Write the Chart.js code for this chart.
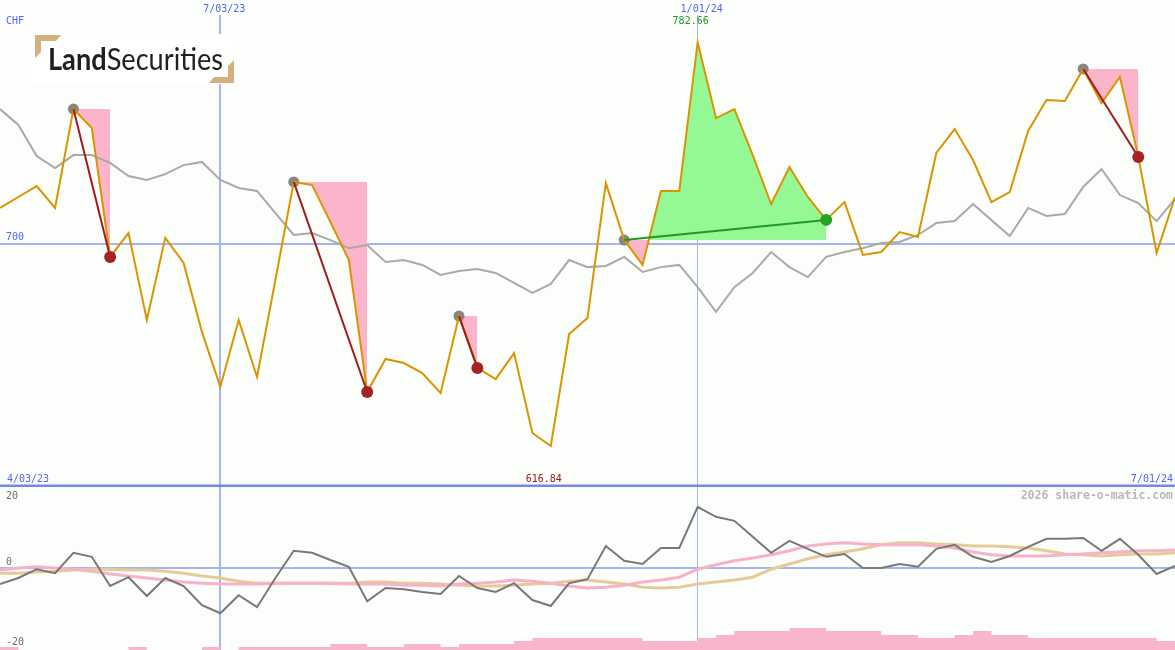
<!DOCTYPE html>
<html>
<head>
<meta charset="utf-8">
<title>Land Securities</title>
<script src="https://cdn.jsdelivr.net/npm/chart.js@4.4.1/dist/chart.umd.min.js"></script>
<style>
  html, body { margin: 0; padding: 0; background: #fcfefc; }
  #wrap { position: relative; width: 1175px; height: 650px; overflow: hidden; }
  canvas { position: absolute; left: 0; }
  #priceChart { top: 0; }
  #oscChart { top: 487px; }
</style>
</head>
<body>
<div id="wrap">
  <canvas id="priceChart" width="1175" height="487"></canvas>
  <canvas id="oscChart" width="1175" height="163"></canvas>
</div>
<script>
// weekly closes (CHF)
const price = [714.6, 719.1, 723.6, 714.6, 755.2, 747.4, 694.5, 704.3, 668.6, 702.3,
  692.0, 663.7, 641.1, 668.6, 645.2, 685.0, 725.3, 724.0, 708.8, 693.2,
  639.0, 652.6, 650.9, 646.8, 638.6, 670.2, 648.9, 644.3, 655.0, 622.2,
  616.84, 662.8, 669.4, 724.8, 701.4, 691.2, 721.6, 721.6, 782.66, 751.5,
  755.2, 736.3, 716.2, 731.4, 719.1, 709.7, 717.0, 695.3, 696.5, 704.7,
  702.7, 737.2, 747.0, 734.3, 717.0, 721.1, 746.2, 758.9, 758.5, 771.7,
  757.7, 768.4, 735.5, 696.1, 719.1];

// moving average
const avg = [755.2, 748.7, 735.9, 731.0, 736.3, 736.3, 733.1, 727.7, 726.1, 728.5,
  732.2, 733.5, 726.1, 722.8, 721.6, 712.5, 703.5, 704.3, 701.4, 698.1,
  699.4, 692.4, 693.2, 691.2, 687.1, 688.7, 689.5, 687.9, 683.8, 679.7,
  683.4, 693.2, 690.3, 690.8, 694.5, 688.3, 690.3, 691.2, 682.1, 671.9,
  682.1, 687.9, 696.5, 690.3, 686.2, 694.5, 696.5, 698.1, 700.2, 700.6,
  703.5, 708.4, 709.2, 716.2, 709.6, 703.1, 714.6, 711.3, 712.1, 723.2,
  730.6, 719.9, 716.6, 709.2, 718.3];

// lower panel
const osc = [-4.0, -2.5, -0.3, -1.3, 3.8, 2.8, -4.5, -2.3, -7.0, -2.5,
  -4.5, -9.3, -11.3, -6.8, -9.8, -2.5, 4.3, 3.8, 2.0, 0.3,
  -8.3, -5.0, -5.3, -6.0, -6.5, -2.0, -5.0, -6.0, -3.8, -8.0,
  -9.5, -3.8, -2.8, 5.5, 1.8, 1.0, 5.0, 5.0, 15.3, 12.8,
  11.8, 7.8, 3.8, 6.8, 4.8, 2.8, 3.5, 0, 0, 1.0,
  0.3, 4.8, 5.8, 2.8, 1.5, 3.0, 5.3, 7.3, 7.3, 7.5,
  4.3, 7.3, 3.3, -1.5, 0.5];

const oscPink = [-0.5, 0, 0.3, 0, -0.3, -0.8, -1.5, -2, -2.5, -3,
  -3.5, -3.8, -4, -4, -4, -3.8, -3.8, -3.8, -3.8, -4,
  -4, -4, -4.3, -4.3, -4.5, -4, -3.8, -3.5, -3, -3.3,
  -3.8, -4.5, -5, -4.8, -4.3, -3.5, -3, -2.3, -0.3, 0.8,
  1.8, 2.5, 3.3, 4.3, 5.5, 6, 6.3, 6, 5.8, 5.8,
  5.8, 5.5, 5, 4, 3.3, 3, 3, 3, 3.3, 3.5,
  3.8, 4, 4.3, 4.3, 4.5];

const oscTan = [-1.3, -1.3, -1, -0.8, -0.5, -0.3, -0.3, -0.5, -0.5, -0.8,
  -1.3, -2, -2.5, -3.3, -3.8, -3.8, -3.8, -3.8, -3.8, -3.8,
  -3.5, -3.5, -3.8, -3.8, -4, -4.3, -4.5, -4.5, -4.3, -4,
  -3.8, -3.3, -3, -3.5, -4, -4.8, -5, -4.8, -4, -3.5,
  -3, -2.3, -0.3, 1, 2.3, 3.3, 4, 4.8, 5.8, 6.3,
  6.3, 6, 5.8, 5.5, 5.5, 5.3, 5, 4.3, 3.5, 3.3,
  3, 3.3, 3.5, 3.5, 3.8];

const volume = [1, 0, 0, 0, 0, 0, 0, 1, 0, 0,
  0, 1, 0, 1, 1, 1, 1, 1, 2, 2,
  1, 1, 2, 2, 1, 2, 2, 2, 3, 4,
  4, 4, 4, 4, 4, 3, 3, 3, 4, 5,
  6.3, 6.3, 6.3, 7.3, 7.3, 6.3, 6.3, 6.3, 5, 5,
  4, 4, 5, 6.3, 5, 5, 4, 4, 4, 4,
  4, 4, 4, 3, 3];

// signals (week index of entry / exit)
const sellStart = [4, 16, 25, 59];
const sellEnd = [6, 20, 26, 62];
const buyStart = [34];
const buyEnd = [45];

// labels
const dateTickWeeks = [12, 38];
const dateTickLabels = ['7/03/23', '1/01/24'];
const rangeLabels = ['4/03/23', '7/01/24'];
const priceTicks = [700];
const oscTicks = [20, 0, -20];
const currency = 'CHF';
const credit = '2026 share-o-matic.com';

const weeks = price.map((_, i) => i);

const BG = '#fcfefc';
const GRID = '#a6b4f2';
const BLUE_TEXT = '#5464ee';
const MONO = '"DejaVu Sans Mono", monospace';
const PINK = '#fab5cb';
const GREEN = '#94f894';

function onlyAt(values, idxs) {
  return values.map((v, i) => idxs.includes(i) ? v : null);
}
function levelBetween(values, a, b) {
  return values.map((v, i) => (i >= a && i <= b) ? values[a] : null);
}

function drawDateLines(chart, top) {
  const { ctx, chartArea, scales } = chart;
  ctx.save();
  ctx.strokeStyle = GRID;
  dateTickWeeks.forEach((w, k) => {
    const wide = k === 0;
    const x = wide ? Math.round(scales.x.getPixelForValue(w)) : Math.floor(scales.x.getPixelForValue(w)) + 0.5;
    ctx.lineWidth = wide ? 2 : 1;
    ctx.beginPath();
    ctx.moveTo(x, top);
    ctx.lineTo(x, chartArea.bottom);
    ctx.stroke();
  });
  ctx.restore();
}

function drawLogo(ctx) {
  ctx.save();
  ctx.fillStyle = '#ffffff';
  ctx.fillRect(30, 34, 208, 50);
  ctx.fillStyle = '#d3b07c';
  ctx.beginPath();
  ctx.moveTo(35, 35); ctx.lineTo(61, 35); ctx.lineTo(56, 41); ctx.lineTo(41, 41);
  ctx.lineTo(41, 52); ctx.lineTo(35, 58); ctx.closePath(); ctx.fill();
  ctx.beginPath();
  ctx.moveTo(234, 83); ctx.lineTo(209, 83); ctx.lineTo(214, 77); ctx.lineTo(228, 77);
  ctx.lineTo(228, 66); ctx.lineTo(234, 60); ctx.closePath(); ctx.fill();

  const bold = 'bold 30px Lato', reg = '30px Lato';
  ctx.font = bold;
  const w1 = ctx.measureText('Land').width;
  ctx.font = reg;
  const w2 = ctx.measureText('Securities').width;
  ctx.translate(48, 70);
  ctx.scale(175 / (w1 + w2), 1);
  ctx.fillStyle = '#231f20';
  ctx.textBaseline = 'alphabetic';
  ctx.font = bold;
  ctx.fillText('Land', 0, 0);
  ctx.font = reg;
  ctx.fillText('Securities', w1, 0);
  ctx.restore();
}

const priceDecor = {
  id: 'priceDecor',
  beforeDraw(chart) {
    const { ctx, width, height } = chart;
    ctx.save();
    ctx.fillStyle = BG;
    ctx.fillRect(0, 0, width, height);
    ctx.restore();
  },
  beforeDatasetsDraw(chart) {
    const { ctx, chartArea, scales } = chart;
    drawDateLines(chart, 15);
    ctx.save();
    ctx.strokeStyle = GRID;
    ctx.lineWidth = 2;
    priceTicks.forEach(t => {
      const y = Math.round(scales.y.getPixelForValue(t));
      ctx.beginPath();
      ctx.moveTo(chartArea.left, y);
      ctx.lineTo(chartArea.right, y);
      ctx.stroke();
    });
    ctx.restore();
    drawLogo(ctx);
  },
  afterDatasetsDraw(chart) {
    const { ctx, chartArea, scales } = chart;
    ctx.save();
    ctx.font = '10px ' + MONO;
    ctx.textBaseline = 'middle';
    ctx.fillStyle = BLUE_TEXT;

    ctx.textAlign = 'left';
    ctx.fillText(currency, 6, 21);
    priceTicks.forEach(t => {
      ctx.fillText(String(t), 6, scales.y.getPixelForValue(t) - 6);
    });

    ctx.textAlign = 'center';
    dateTickWeeks.forEach((w, k) => {
      ctx.fillText(dateTickLabels[k], scales.x.getPixelForValue(w) + 4, 9);
    });

    // high / low
    const hi = Math.max(...price), lo = Math.min(...price);
    const hiIdx = price.indexOf(hi), loIdx = price.indexOf(lo);
    ctx.fillStyle = '#1f951f';
    ctx.fillText(hi.toFixed(2), scales.x.getPixelForValue(hiIdx) - 7, 21);
    ctx.fillStyle = '#a01616';
    ctx.fillText(lo.toFixed(2), scales.x.getPixelForValue(loIdx) - 7, 479);

    ctx.fillStyle = BLUE_TEXT;
    ctx.textAlign = 'left';
    ctx.fillText(rangeLabels[0], 7, 479);
    ctx.textAlign = 'right';
    ctx.fillText(rangeLabels[1], chartArea.right - 2, 479);

    ctx.strokeStyle = '#7886ec';
    ctx.lineWidth = 3;
    ctx.beginPath();
    ctx.moveTo(chartArea.left, 486);
    ctx.lineTo(chartArea.right, 486);
    ctx.stroke();
    ctx.restore();
  }
};

const oscDecor = {
  id: 'oscDecor',
  beforeDraw(chart) {
    const { ctx, width, height } = chart;
    ctx.save();
    ctx.fillStyle = BG;
    ctx.fillRect(0, 0, width, height);
    ctx.restore();
  },
  beforeDatasetsDraw(chart) {
    const { ctx, chartArea, scales } = chart;
    drawDateLines(chart, 0);
    ctx.save();
    ctx.strokeStyle = GRID;
    ctx.lineWidth = 2;
    const y = Math.round(scales.y.getPixelForValue(0));
    ctx.beginPath();
    ctx.moveTo(chartArea.left, y);
    ctx.lineTo(chartArea.right, y);
    ctx.stroke();
    ctx.restore();
  },
  afterDatasetsDraw(chart) {
    const { ctx, chartArea, scales } = chart;
    ctx.save();
    ctx.font = '10px ' + MONO;
    ctx.textBaseline = 'middle';
    ctx.textAlign = 'left';
    ctx.fillStyle = '#6c6c6c';
    oscTicks.forEach(t => {
      const y = Math.max(9, scales.y.getPixelForValue(t) - 6);
      ctx.fillText(String(t), 6, y);
    });
    ctx.font = 'bold 11.5px ' + MONO;
    ctx.fillStyle = '#b8b8b8';
    ctx.textAlign = 'right';
    ctx.fillText(credit, chartArea.right - 2, 9);
    ctx.restore();
  }
};

// price panel datasets
const datasets = [
  { label: 'Average', data: avg, borderColor: '#a9a9a9', borderWidth: 2, order: 8 },
  { label: 'Price', data: price, borderColor: '#da9400', borderWidth: 2, order: 5 },
  { label: 'Entry', data: onlyAt(price, sellStart.concat(buyStart)), showLine: false,
    pointRadius: 5.5, pointBackgroundColor: '#858585', pointBorderWidth: 0, order: 6 },
  { label: 'Sell exit', data: onlyAt(price, sellEnd), showLine: false,
    pointRadius: 6, pointBackgroundColor: '#a52222', pointBorderWidth: 0, order: 1 },
  { label: 'Buy exit', data: onlyAt(price, buyEnd), showLine: false,
    pointRadius: 6, pointBackgroundColor: '#25a325', pointBorderWidth: 0, order: 1 }
];

function addSignal(a, b, lineColor) {
  datasets.push({
    label: 'zone', data: levelBetween(price, a, b), borderWidth: 0, borderColor: 'rgba(0,0,0,0)',
    backgroundColor: PINK, fill: { target: 1, above: PINK, below: GREEN }, order: 10
  });
  datasets.push({
    label: 'trade', data: onlyAt(price, [a, b]), spanGaps: true,
    borderColor: lineColor, borderWidth: 2, order: 3
  });
}
sellStart.forEach((s, k) => addSignal(s, sellEnd[k], '#a01c1c'));
buyStart.forEach((s, k) => addSignal(s, buyEnd[k], '#229a22'));

const commonOptions = {
  responsive: false,
  maintainAspectRatio: false,
  animation: false,
  events: [],
  layout: { padding: 0, autoPadding: false },
  elements: { point: { radius: 0 }, line: { tension: 0 } },
  plugins: { legend: { display: false }, tooltip: { enabled: false } }
};

new Chart(document.getElementById('priceChart').getContext('2d'), {
  type: 'line',
  data: { labels: weeks, datasets: datasets },
  options: Object.assign({}, commonOptions, {
    scales: {
      x: { display: false, offset: false },
      y: { display: false, min: 600, max: 800 }
    }
  }),
  plugins: [priceDecor]
});

new Chart(document.getElementById('oscChart').getContext('2d'), {
  type: 'line',
  data: {
    labels: weeks,
    datasets: [
      { label: 'Momentum', data: osc, borderColor: '#787878', borderWidth: 2, order: 1 },
      { label: 'Signal', data: oscTan, borderColor: '#e6cb98', borderWidth: 3, order: 3 },
      { label: 'Trend', data: oscPink, borderColor: '#f8b2c8', borderWidth: 3, order: 2 },
      { label: 'Volume', data: volume, yAxisID: 'yv', stepped: true, borderWidth: 0,
        borderColor: 'rgba(0,0,0,0)', backgroundColor: '#f9b5ca', fill: 'origin', order: 4 }
    ]
  },
  options: Object.assign({}, commonOptions, {
    scales: {
      x: { display: false, offset: false },
      y: { display: false, min: -20.5, max: 20.25 },
      yv: { display: false, min: 0, max: 54.33 }
    }
  }),
  plugins: [oscDecor]
});
</script>
</body>
</html>
